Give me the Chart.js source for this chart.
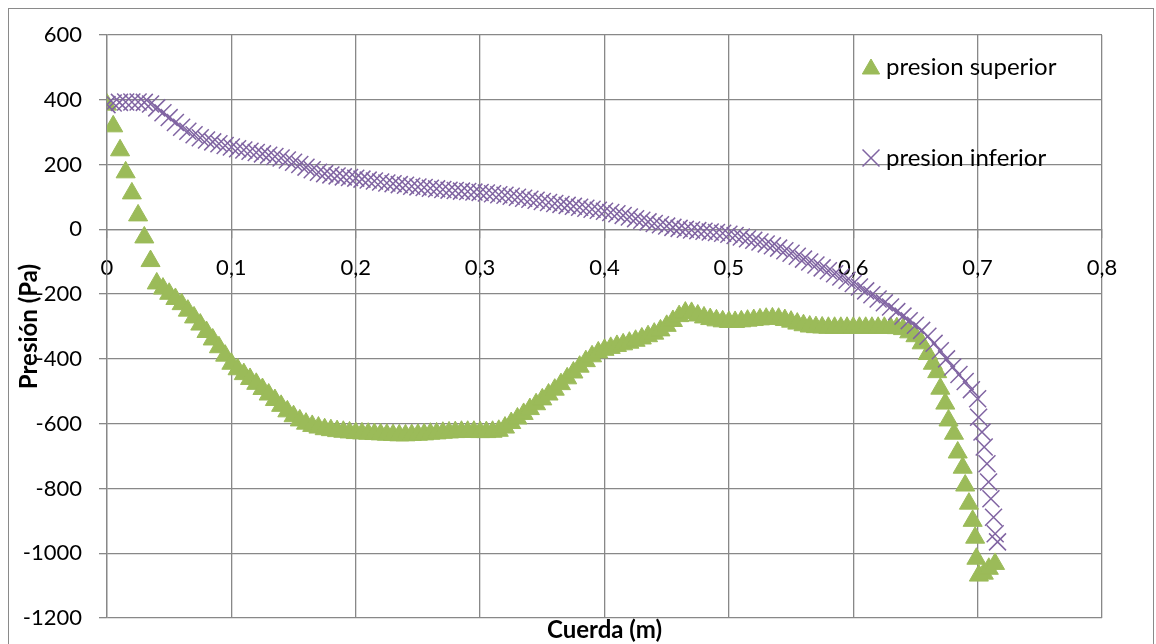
<!DOCTYPE html>
<html lang="es">
<head>
<meta charset="utf-8">
<title>Presión vs cuerda</title>
<script src="https://cdn.jsdelivr.net/npm/chart.js@4/dist/chart.umd.min.js"></script>
<style>
  html, body { margin: 0; padding: 0; background: #fff; }
  #wrap { width: 1156px; height: 644px; }
</style>
</head>
<body>
<div id="wrap"><canvas id="chart" width="1156" height="644"></canvas></div>
<script>
// ── Data ────────────────────────────────────────────────────
const xTickLabels = ['0', '0,1', '0,2', '0,3', '0,4', '0,5', '0,6', '0,7', '0,8'];
const yTickLabels = ['-1200', '-1000', '-800', '-600', '-400', '-200', '0', '200', '400', '600'];
const seriesNames = ['presion superior', 'presion inferior'];

// upper surface (triangles)
const supX = [
  0, 0.005, 0.0105, 0.015, 0.02, 0.025, 0.03, 0.035, 0.04, 0.045,
  0.05, 0.055, 0.06, 0.065, 0.07, 0.075, 0.08, 0.085, 0.09, 0.095,
  0.1, 0.105, 0.11, 0.115, 0.12, 0.125, 0.13, 0.135, 0.14, 0.145,
  0.15, 0.155, 0.16, 0.165, 0.17, 0.175, 0.18, 0.185, 0.19, 0.195,
  0.2, 0.205, 0.21, 0.215, 0.22, 0.225, 0.23, 0.235, 0.24, 0.245,
  0.25, 0.255, 0.26, 0.265, 0.27, 0.275, 0.28, 0.285, 0.29, 0.295,
  0.3, 0.305, 0.31, 0.315, 0.32, 0.325, 0.33, 0.335, 0.34, 0.345,
  0.35, 0.355, 0.36, 0.365, 0.37, 0.375, 0.38, 0.385, 0.39, 0.395,
  0.4, 0.405, 0.41, 0.415, 0.42, 0.425, 0.43, 0.435, 0.44, 0.445,
  0.45, 0.455, 0.46, 0.465, 0.47, 0.475, 0.48, 0.485, 0.49, 0.495,
  0.5, 0.505, 0.51, 0.515, 0.52, 0.525, 0.53, 0.535, 0.54, 0.545,
  0.55, 0.555, 0.56, 0.565, 0.57, 0.575, 0.58, 0.585, 0.59, 0.595,
  0.6, 0.605, 0.61, 0.615, 0.62, 0.625, 0.63, 0.635, 0.64, 0.645,
  0.65, 0.655, 0.66, 0.664, 0.6675, 0.67, 0.674, 0.6766, 0.681, 0.684,
  0.688, 0.69, 0.693, 0.696, 0.698, 0.699, 0.701, 0.705, 0.709, 0.714
];
const supY = [
  385, 318, 244, 176, 111, 43, -25, -98, -167, -183,
  -199, -215, -231, -251, -272, -294, -317, -340, -364, -390,
  -415, -432, -447, -462, -477, -493, -510, -527, -545, -562,
  -577, -590, -600, -607, -612, -617, -620, -623, -625, -627,
  -629, -630, -631, -632, -633, -634, -635, -636, -636, -635,
  -634, -633, -631, -630, -628, -627, -626, -625, -625, -625,
  -626, -626, -625, -622, -612, -598, -584, -570, -555, -540,
  -525, -510, -495, -478, -460, -442, -424, -407, -392, -380,
  -372, -366, -360, -355, -350, -344, -337, -330, -322, -312,
  -298, -283, -268, -257, -258, -266, -272, -277, -281, -284,
  -286, -286, -284, -282, -280, -278, -276, -275, -276, -280,
  -285, -291, -296, -300, -302, -303, -304, -304, -304, -304,
  -304, -304, -304, -304, -304, -304, -304, -305, -308, -318,
  -330, -352, -385, -415, -441, -492, -538, -590, -631, -689,
  -736, -791, -847, -900, -952, -1017, -1069, -1063, -1048, -1033
];

// lower surface (crosses)
const infX = [
  0, 0.005, 0.01, 0.015, 0.02, 0.025, 0.03, 0.035, 0.04, 0.045,
  0.05, 0.055, 0.06, 0.065, 0.07, 0.075, 0.08, 0.085, 0.09, 0.095,
  0.1, 0.105, 0.11, 0.115, 0.12, 0.125, 0.13, 0.135, 0.14, 0.145,
  0.15, 0.155, 0.16, 0.165, 0.17, 0.175, 0.18, 0.185, 0.19, 0.195,
  0.2, 0.205, 0.21, 0.215, 0.22, 0.225, 0.23, 0.235, 0.24, 0.245,
  0.25, 0.255, 0.26, 0.265, 0.27, 0.275, 0.28, 0.285, 0.29, 0.295,
  0.3, 0.305, 0.31, 0.315, 0.32, 0.325, 0.33, 0.335, 0.34, 0.345,
  0.35, 0.355, 0.36, 0.365, 0.37, 0.375, 0.38, 0.385, 0.39, 0.395,
  0.4, 0.405, 0.41, 0.415, 0.42, 0.425, 0.43, 0.435, 0.44, 0.445,
  0.45, 0.455, 0.46, 0.465, 0.47, 0.475, 0.48, 0.485, 0.49, 0.495,
  0.5, 0.505, 0.51, 0.515, 0.52, 0.525, 0.53, 0.535, 0.54, 0.545,
  0.55, 0.555, 0.56, 0.565, 0.57, 0.575, 0.58, 0.585, 0.59, 0.595,
  0.6, 0.605, 0.61, 0.615, 0.62, 0.625, 0.63, 0.635, 0.64, 0.645,
  0.65, 0.655, 0.66, 0.665, 0.67, 0.675, 0.68, 0.685, 0.69, 0.695,
  0.7, 0.7008, 0.7035, 0.7053, 0.7075, 0.7088, 0.7107, 0.7128, 0.7141, 0.716
];
const infY = [
  385, 390, 392, 393, 393, 393, 392, 387, 375, 360,
  345, 330, 315, 303, 292, 283, 276, 270, 264, 259,
  254, 249, 245, 241, 237, 233, 229, 225, 220, 214,
  207, 200, 192, 184, 176, 172, 168, 165, 162, 160,
  158, 155, 152, 149, 146, 143, 141, 138, 136, 133,
  131, 129, 127, 125, 123, 121, 120, 118, 117, 115,
  114, 112, 110, 107, 105, 102, 99, 96, 93, 90,
  86, 83, 80, 77, 74, 71, 68, 65, 62, 59,
  56, 52, 48, 43, 38, 33, 28, 23, 18, 14,
  10, 6, 3, 0, -2, -4, -6, -8, -10, -12,
  -15, -19, -24, -29, -34, -39, -45, -51, -58, -66,
  -74, -83, -92, -101, -110, -119, -128, -137, -147, -157,
  -167, -178, -190, -202, -215, -227, -240, -254, -268, -282,
  -296, -312, -330, -352, -375, -400, -425, -448, -470, -495,
  -523, -580, -626, -672, -724, -780, -832, -889, -940, -965
];

const toPoints = (xs, ys) => xs.map((x, i) => ({ x: x, y: ys[i] }));

// ── Style ───────────────────────────────────────────────────
const GREEN = '#9BBB59';
const PURPLE = '#8064A2';
const GRID = '#888888';
const FONT = 'Lato, "Open Sans", sans-serif';

// outer frame of the chart object
const framePlugin = {
  id: 'frame',
  beforeDraw(chart) {
    const ctx = chart.ctx;
    ctx.save();
    ctx.fillStyle = '#fff';
    ctx.fillRect(0, 0, chart.width, chart.height);
    ctx.strokeStyle = '#8a8a8a';
    ctx.lineWidth = 1;
    ctx.strokeRect(8.5, 8.5, 1145, 700);
    ctx.restore();
  }
};

// legend sits inside the plot, top right, items far apart
const insideLegend = {
  id: 'insideLegend',
  afterDatasetsDraw(chart) {
    const ctx = chart.ctx;
    const rows = [67, 158];
    ctx.save();
    ctx.font = '24px ' + FONT;
    ctx.textBaseline = 'middle';
    ctx.textAlign = 'left';
    chart.data.datasets.forEach((ds, i) => {
      const y = rows[i];
      const tri = ds.pointStyle === 'triangle';
      ctx.fillStyle = ds.backgroundColor;
      ctx.strokeStyle = ds.borderColor;
      ctx.lineWidth = ds.borderWidth;
      Chart.helpers.drawPoint(ctx, {
        pointStyle: ds.pointStyle,
        radius: tri ? 10 : 12,
        borderWidth: ds.borderWidth,
        rotation: 0
      }, 871, y + (tri ? 2 : 0));
      ctx.fillStyle = '#000';
      ctx.fillText(ds.label, 886, y);
    });
    ctx.restore();
  }
};

new Chart(document.getElementById('chart'), {
  type: 'scatter',
  data: {
    datasets: [
      {
        label: seriesNames[0],
        data: toPoints(supX, supY),
        pointStyle: 'triangle',
        pointRadius: 11,
        backgroundColor: GREEN,
        borderColor: GREEN,
        borderWidth: 1,
        order: 2
      },
      {
        label: seriesNames[1],
        data: toPoints(infX, infY),
        pointStyle: 'crossRot',
        pointRadius: 12,
        backgroundColor: PURPLE,
        borderColor: PURPLE,
        borderWidth: 1.5,
        order: 1
      }
    ]
  },
  options: {
    responsive: false,
    devicePixelRatio: 1,
    animation: false,
    layout: { autoPadding: false, padding: { top: 35, right: 54, bottom: 0, left: 0 } },
    plugins: {
      legend: { display: false },
      tooltip: { enabled: false }
    },
    scales: {
      x: {
        type: 'linear',
        position: { y: 0 },
        min: 0,
        max: 0.8,
        ticks: {
          stepSize: 0.1,
          color: '#000',
          padding: 17,
          font: { family: FONT, size: 22 },
          callback: (v, i) => xTickLabels[i]
        },
        grid: { color: GRID, lineWidth: 1.3, tickLength: 8 },
        border: { color: GRID, width: 1.3 }
      },
      // bottom axis only carries the title, centred under the plot
      xTitle: {
        type: 'linear',
        axis: 'x',
        position: 'bottom',
        min: 0,
        max: 0.8,
        ticks: { display: false },
        grid: { display: false, drawTicks: false },
        border: { display: false },
        title: {
          display: true,
          text: 'Cuerda (m)',
          color: '#000',
          font: { family: FONT, size: 24, weight: 'bold', lineHeight: 1 },
          padding: { top: 0, bottom: 2 }
        }
      },
      y: {
        type: 'linear',
        min: -1200,
        max: 600,
        afterFit: (scale) => {
          // fixed axis width; end labels may overhang the plot edges
          scale.width = 107;
          scale.paddingTop = 0;
          scale.paddingBottom = 0;
        },
        ticks: {
          stepSize: 200,
          color: '#000',
          padding: 17,
          font: { family: FONT, size: 22 },
          callback: (v, i) => yTickLabels[i]
        },
        grid: { color: GRID, lineWidth: 1.3, tickLength: 8 },
        border: { color: GRID, width: 1.3 },
        title: {
          display: true,
          text: 'Presión (Pa)',
          color: '#000',
          font: { family: FONT, size: 24, weight: 'bold' },
          padding: { top: 15, bottom: 0 }
        }
      }
    }
  },
  plugins: [framePlugin, insideLegend]
});
</script>
</body>
</html>
